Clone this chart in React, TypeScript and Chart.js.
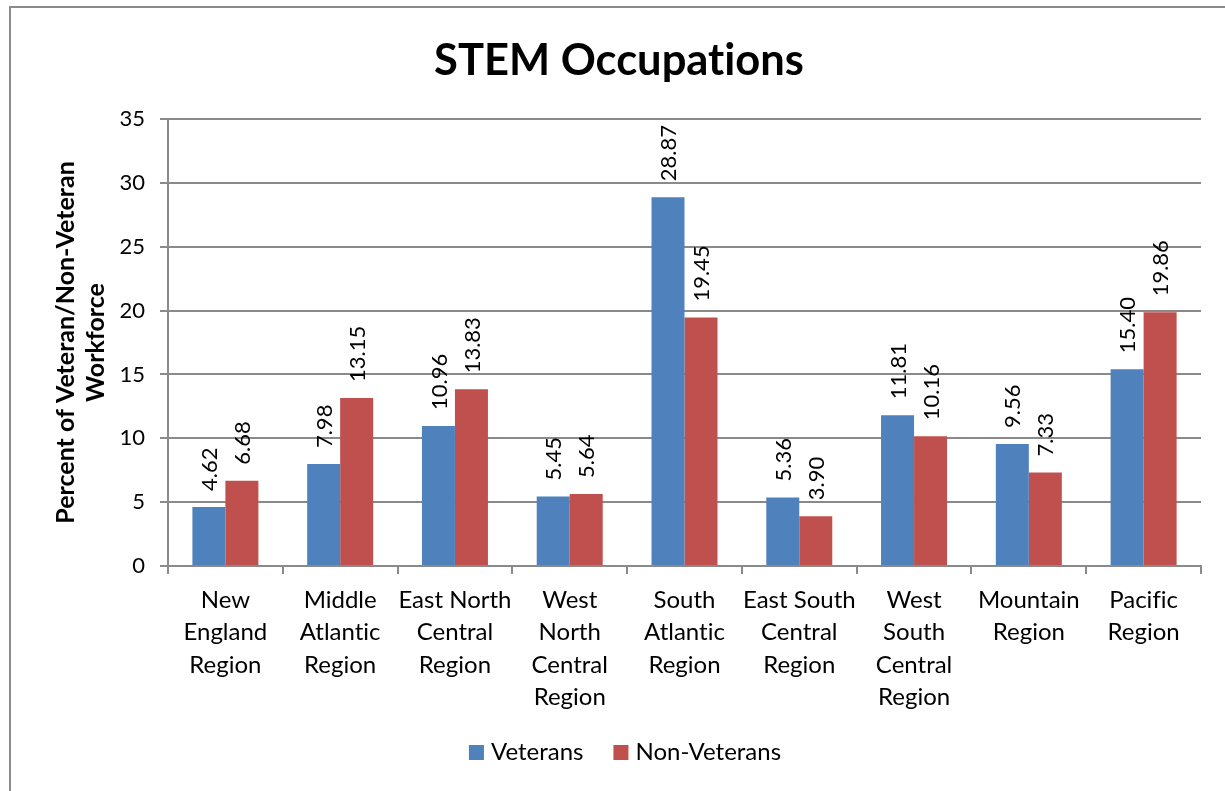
import React, { useEffect, useRef } from "react";
import { Chart, registerables } from "chart.js";

Chart.register(...registerables);

const categories: string[][] = [
  ["New", "England", "Region"],
  ["Middle", "Atlantic", "Region"],
  ["East North", "Central", "Region"],
  ["West", "North", "Central", "Region"],
  ["South", "Atlantic", "Region"],
  ["East South", "Central", "Region"],
  ["West", "South", "Central", "Region"],
  ["Mountain", "Region"],
  ["Pacific", "Region"],
];
const veterans = [4.62, 7.98, 10.96, 5.45, 28.87, 5.36, 11.81, 9.56, 15.4];
const nonVeterans = [6.68, 13.15, 13.83, 5.64, 19.45, 3.9, 10.16, 7.33, 19.86];
const yTicks = [0, 5, 10, 15, 20, 25, 30, 35];
const titleText = "STEM Occupations";

const FONT = "Lato, 'Open Sans', sans-serif";
const GRID = "#8a8a8a";

const framePlugin = {
  id: "frame",
  beforeDraw(chart: any) {
    const ctx = chart.ctx;
    try {
      (ctx as any).textRendering = "optimizeSpeed";
    } catch (e) {}
    ctx.save();
    ctx.fillStyle = "#ffffff";
    ctx.fillRect(0, 0, chart.width, chart.height);
    ctx.strokeStyle = GRID;
    ctx.lineWidth = 2;
    ctx.beginPath();
    ctx.moveTo(10, chart.height + 5);
    ctx.lineTo(10, 7);
    ctx.lineTo(chart.width + 5, 7);
    ctx.stroke();
    ctx.restore();
  },
};

const titleLegendPlugin = {
  id: "titleLegend",
  afterDraw(chart: any) {
    const ctx = chart.ctx;
    ctx.save();
    // title
    ctx.font = `bold 43.5px ${FONT}`;
    ctx.fillStyle = "#000";
    ctx.textAlign = "center";
    ctx.textBaseline = "alphabetic";
    ctx.fillText(titleText, 619, 75);
    // legend
    ctx.font = `24px ${FONT}`;
    ctx.textAlign = "left";
    const items = chart.data.datasets.map((ds: any) => ({
      label: ds.label as string,
      color: ds.backgroundColor as string,
      w: ctx.measureText(ds.label).width,
    }));
    const box = 15;
    const gapText = 7;
    const gapItem = 30;
    let total = 0;
    items.forEach((it: any, i: number) => {
      total += box + gapText + it.w + (i < items.length - 1 ? gapItem : 0);
    });
    let x = 625 - total / 2;
    items.forEach((it: any) => {
      ctx.fillStyle = it.color;
      ctx.fillRect(x, 745, box, box);
      ctx.fillStyle = "#000";
      ctx.fillText(it.label, x + box + gapText, 760);
      x += box + gapText + it.w + gapItem;
    });
    ctx.restore();
  },
};

const labelPlugin = {
  id: "barLabels",
  afterDatasetsDraw(chart: any) {
    const ctx = chart.ctx;
    ctx.save();
    ctx.font = `22px ${FONT}`;
    ctx.fillStyle = "#000";
    ctx.textAlign = "left";
    ctx.textBaseline = "middle";
    chart.data.datasets.forEach((ds: any, di: number) => {
      const meta = chart.getDatasetMeta(di);
      meta.data.forEach((bar: any, i: number) => {
        const v = ds.data[i] as number;
        ctx.save();
        ctx.translate(bar.x, bar.y - 16);
        ctx.rotate(-Math.PI / 2);
        ctx.fillText(v.toFixed(2), 0, 1);
        ctx.restore();
      });
    });
    ctx.restore();
  },
};

export default function App() {
  const ref = useRef<HTMLCanvasElement>(null);
  useEffect(() => {
    if (!ref.current) return;
    const chart = new Chart(ref.current, {
      type: "bar",
      data: {
        labels: categories,
        datasets: [
          {
            label: "Veterans",
            data: veterans,
            backgroundColor: "#4F81BD",
            categoryPercentage: 0.575,
            barPercentage: 1,
          },
          {
            label: "Non-Veterans",
            data: nonVeterans,
            backgroundColor: "#C0504D",
            categoryPercentage: 0.575,
            barPercentage: 1,
          },
        ],
      },
      options: {
        animation: false,
        responsive: false,
        devicePixelRatio: 1,
        layout: { padding: { left: 0, right: 24, top: 119, bottom: 78 } },
        plugins: {
          title: { display: false },
          legend: { display: false },
          tooltip: { enabled: false },
        },
        scales: {
          x: {
            grid: {
              display: true,
              drawOnChartArea: false,
              drawTicks: true,
              tickLength: 8,
              color: GRID,
              lineWidth: 2,
              offset: true,
            },
            border: { display: true, color: GRID, width: 2 },
            ticks: {
              color: "#000",
              font: { family: FONT, size: 24, lineHeight: 1.354 },
              padding: 10,
              maxRotation: 0,
              autoSkip: false,
            },
            afterFit(scale: any) {
              scale.height = 147;
            },
          },
          y: {
            min: 0,
            max: 35,
            afterBuildTicks(scale: any) {
              scale.ticks = yTicks.map((v) => ({ value: v }));
            },
            grid: {
              color: GRID,
              lineWidth: 2,
              tickLength: 8,
              drawTicks: true,
            },
            border: { display: true, color: GRID, width: 2 },
            ticks: {
              color: "#000",
              font: { family: FONT, size: 22 },
              padding: 15,
            },
            title: {
              display: true,
              text: ["Percent of Veteran/Non-Veteran", "Workforce"],
              color: "#000",
              font: { family: FONT, size: 25, weight: "bold", lineHeight: "30px" as any },
              padding: { top: 51, bottom: 0 },
            },
            afterFit(scale: any) {
              scale.width = 168;
            },
          },
        },
      },
      plugins: [framePlugin, labelPlugin, titleLegendPlugin],
    });
    return () => chart.destroy();
  }, []);
  return (
    <div style={{ position: "fixed", left: 0, top: 0, width: 1225, height: 791, background: "#fff" }}>
      <canvas ref={ref} width={1225} height={791} style={{ display: "block", width: 1225, height: 791 }} />
    </div>
  );
}
